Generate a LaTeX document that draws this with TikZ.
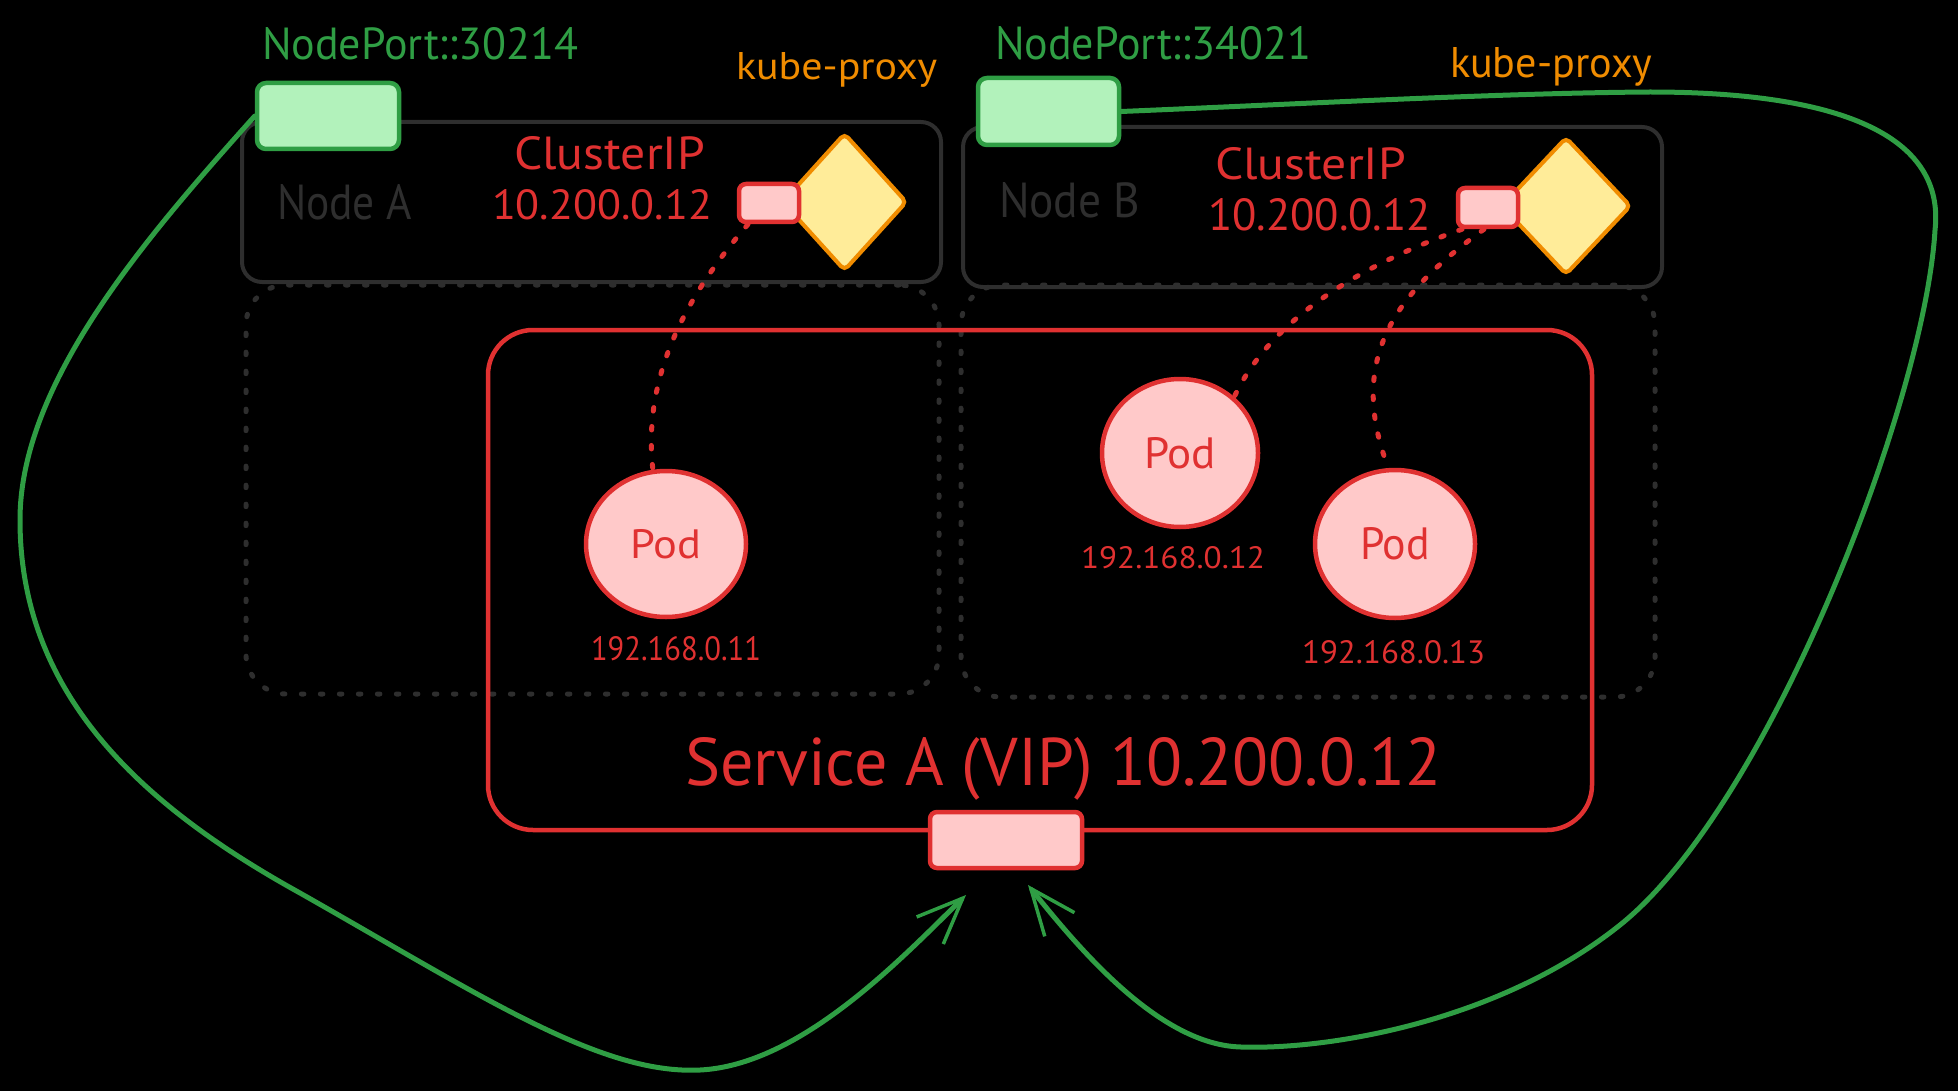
\documentclass[tikz,border=0pt]{standalone}
\usepackage{fontspec}
\setmainfont{PT Sans}
\usepackage{graphicx}
\usetikzlibrary{shapes.geometric,arrows.meta}
\definecolor{gstroke}{HTML}{2F9E44}
\definecolor{gfill}{HTML}{B2F2BB}
\definecolor{rstroke}{HTML}{E03131}
\definecolor{rfill}{HTML}{FFC9C9}
\definecolor{ostroke}{HTML}{F08C00}
\definecolor{yfill}{HTML}{FFEC99}
\definecolor{boxgray}{HTML}{2E2E2E}
\newcommand{\fitt}[3]{\resizebox{#1pt}{#2pt}{#3}}
\begin{document}
\begin{tikzpicture}[x=1pt,y=-1pt,
  txt/.style={inner sep=0pt, outer sep=0pt, anchor=base west},
  nodebox/.style={draw=boxgray, line width=4pt, rounded corners=20pt, inner sep=0pt, minimum width=699pt, minimum height=160pt},
  dotbox/.style={draw=boxgray, line width=5pt, line cap=round, dash pattern=on 2.5pt off 16.5pt, rounded corners=40pt, inner sep=0pt},
  gbox/.style={draw=gstroke, fill=gfill, line width=4.5pt, rounded corners=9pt, inner sep=0pt},
  rbox/.style={draw=rstroke, fill=rfill, line width=4.5pt, rounded corners=7pt, inner sep=0pt},
  proxy/.style={diamond, draw=ostroke, fill=yfill, line width=4pt, rounded corners=5pt, inner sep=0pt},
  pod/.style={ellipse, draw=rstroke, fill=rfill, line width=4.5pt, inner sep=0pt, text=rstroke},
  reddot/.style={draw=rstroke, line width=5pt, line cap=round, dash pattern=on 3.5pt off 15.5pt},
  garrow/.style={draw=gstroke, line width=5pt, line cap=round, line join=round, -{Straight Barb[length=46pt,width=38pt,line width=3.5pt]}}
]
\fill[black] (0,0) rectangle (1958,1091);
\useasboundingbox (0,0) rectangle (1958,1091);

% dotted node areas
\node[dotbox, minimum width=693pt, minimum height=409pt] (dA) at (592.5,489.5) {};
\node[dotbox, minimum width=694pt, minimum height=412pt] (dB) at (1308,491) {};

% node boxes
\node[nodebox] (nA) at (591.5,202) {};
\node[nodebox] (nB) at (1312.5,207) {};

% service box
\node[draw=rstroke, line width=4.5pt, rounded corners=45pt, inner sep=0pt, minimum width=1104pt, minimum height=500pt] (svc) at (1040,580) {};

% kube-proxy diamonds
\node[proxy, minimum width=125pt, minimum height=138pt] (kA) at (844.5,202) {};
\node[proxy, minimum width=130pt, minimum height=138pt] (kB) at (1566,206) {};

% ClusterIP ports
\node[rbox, minimum width=60pt, minimum height=38pt] (rA) at (769,203) {};
\node[rbox, minimum width=60pt, minimum height=39pt] (rB) at (1488,207.5) {};

% NodePort boxes
\node[gbox, minimum width=142pt, minimum height=66pt] (gA) at (328,116) {};
\node[gbox, minimum width=141pt, minimum height=67pt] (gB) at (1048.5,111.5) {};

% service VIP port
\node[rbox, minimum width=152pt, minimum height=56pt] (rS) at (1006,840) {};

% pods
\node[pod, minimum width=160pt, minimum height=146pt] (pA) at (666,544) {\fitt{71}{29}{Pod}};
\node[pod, minimum width=156pt, minimum height=148pt] (pB1) at (1180,453) {\fitt{72}{31}{Pod}};
\node[pod, minimum width=160pt, minimum height=148pt] (pB2) at (1395,544) {\fitt{70}{32}{Pod}};

% dotted endpoint links
\draw[reddot] ([xshift=-21pt]rA.south) .. controls (665,320) and (645,400) .. (pA.100);
\draw[reddot] ([xshift=-26pt]rB.south) .. controls (1360,265) and (1270,320) .. (pB1.46);
\draw[reddot] ([xshift=-4pt]rB.south) .. controls (1400,290) and (1345,355) .. (pB2.95);

% arrow tips
\coordinate (tipL) at (966,895);
\coordinate (tipR) at (1028,885);

% NodePort traffic
\draw[garrow] (gA.west) .. controls (152,231) and (20,380) .. (20,520)
  .. controls (20,700) and (150,810) .. (300,893)
  .. controls (480,995) and (600,1075) .. (700,1070)
  .. controls (800,1065) and (900,960) .. (tipL);
\draw[garrow] (gB.east) .. controls (1300,104) and (1500,93) .. (1650,92)
  .. controls (1850,92) and (1945,140) .. (1935,230)
  .. controls (1925,400) and (1770,805) .. (1620,925)
  .. controls (1500,1021) and (1330,1050) .. (1241,1047)
  .. controls (1160,1045) and (1080,950) .. (tipR);

% texts
\node[txt, text=gstroke] (tNPA) at (262,60) {\fitt{316}{32}{NodePort::30214}};
\node[txt, text=gstroke] (tNPB) at (995,60) {\fitt{316}{33}{NodePort::34021}};
\node[txt, text=ostroke] (tKPA) at (736,80) {\fitt{201}{27}{kube-proxy}};
\node[txt, text=ostroke] (tKPB) at (1450,78) {\fitt{202}{30}{kube-proxy}};
\node[txt, text=rstroke] (tCIA) at (514,170) {\fitt{191}{33}{ClusterIP}};
\node[txt, text=rstroke] (tCIB) at (1215,180) {\fitt{191}{32}{ClusterIP}};
\node[txt, text=rstroke] (tIPA) at (492,220) {\fitt{220}{30}{10.200.0.12}};
\node[txt, text=rstroke] (tIPB) at (1208,230) {\fitt{223}{32}{10.200.0.12}};
\node[txt, text=boxgray] (tNA) at (277,220) {\fitt{135}{35}{Node A}};
\node[txt, text=boxgray] (tNB) at (999,218) {\fitt{141}{35}{Node B}};
\node[txt, text=rstroke] (tP1) at (591,660) {\fitt{170}{24}{192.168.0.11}};
\node[txt, text=rstroke] (tP2) at (1081,568) {\fitt{184}{22}{192.168.0.12}};
\node[txt, text=rstroke] (tP3) at (1302,663) {\fitt{183}{23}{192.168.0.13}};
\node[txt, text=rstroke] (tSvc) at (685,785) {\fitt{756}{48}{Service A (VIP) 10.200.0.12}};
\end{tikzpicture}
\end{document}
